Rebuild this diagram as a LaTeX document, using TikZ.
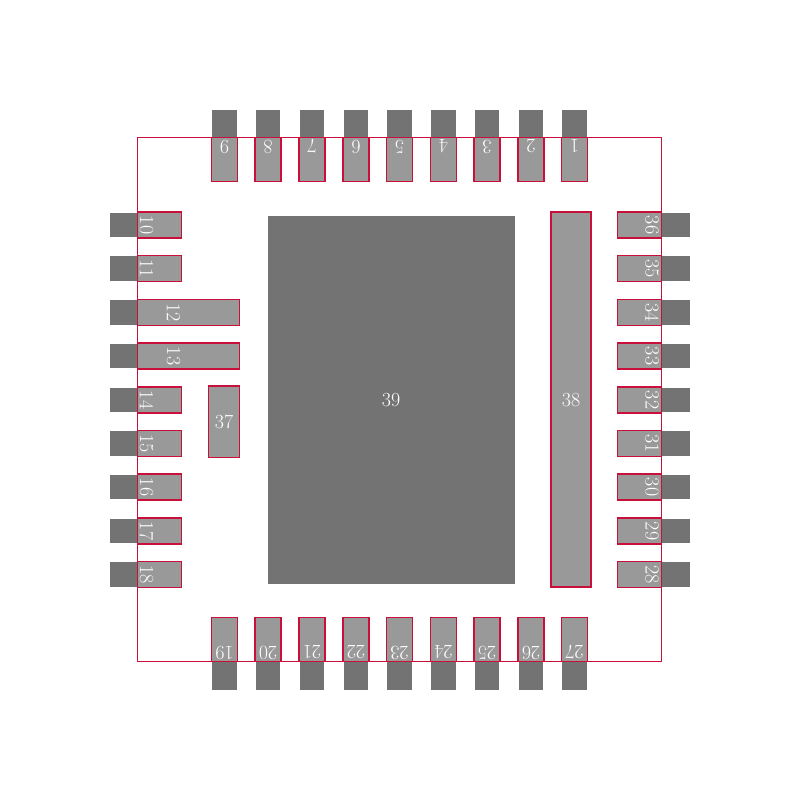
\documentclass[tikz,border=0pt]{standalone}
\usepackage{xcolor}
\usepackage{tikz}
\definecolor{padGrey}{RGB}{153, 153, 153}
\definecolor{tabGrey}{RGB}{115, 115, 115}
\definecolor{outlineRed}{RGB}{200, 16, 58}

\begin{document}
\begin{tikzpicture}[
    x=1pt, y=-1pt,
    pad/.style={fill=padGrey, draw=outlineRed, line width=1.7pt},
    tab/.style={fill=tabGrey},
    pin/.style={text=white, inner sep=0pt, font=\fontsize{20}{24}\selectfont}
]
    \useasboundingbox (0,0) rectangle (800,800);

    % thermal pad
    \fill[tab] (268,215.5) rectangle (514.5,584);

    % tabs and pads, top and bottom rows
    \foreach \n/\xpos in {1/574.5, 2/531, 3/487, 4/443.5, 5/399.5, 6/356, 7/312, 8/268, 9/224.5} {
        \fill[tab] (\xpos-12.2,110) rectangle (\xpos+12.2,137.5);
        \draw[pad] (\xpos-13,137.5) rectangle (\xpos+13,181.5);
    }
    \foreach \n/\xpos in {19/224.5, 20/268, 21/312, 22/356, 23/399.5, 24/443.5, 25/487, 26/531, 27/574.5} {
        \fill[tab] (\xpos-12.2,661.5) rectangle (\xpos+12.2,690);
        \draw[pad] (\xpos-13,617.5) rectangle (\xpos+13,661.5);
    }

    % tabs and pads, left and right rows
    \foreach \n/\ypos in {10/225, 11/268.5, 12/312.5, 13/356, 14/400, 15/443.5, 16/487, 17/531, 18/574.5} {
        \fill[tab] (110,\ypos-12.2) rectangle (137.5,\ypos+12.2);
    }
    \foreach \n/\ypos in {10/225, 11/268.5, 14/400, 15/443.5, 16/487, 17/531, 18/574.5} {
        \draw[pad] (137.5,\ypos-13) rectangle (181.5,\ypos+13);
    }
    \draw[pad] (137.5,299.5) rectangle (239.5,325.5);
    \draw[pad] (137.5,343) rectangle (239.5,369);
    \foreach \n/\ypos in {36/225, 35/268.5, 34/312.5, 33/356, 32/400, 31/443.5, 30/487, 29/531, 28/574.5} {
        \fill[tab] (661.5,\ypos-12.2) rectangle (690,\ypos+12.2);
        \draw[pad] (617.5,\ypos-13) rectangle (661.5,\ypos+13);
    }

    % inner pads
    \draw[pad] (208.5,386) rectangle (239.5,457.5);
    \draw[pad] (551,212) rectangle (591,587);

    % outline
    \draw[outlineRed, line width=1.7pt, line join=round] (137.5,137.5) rectangle (661.5,661.5);

    % labels
    \foreach \n/\xpos in {1/574.5, 2/531, 3/487, 4/443.5, 5/399.5, 6/356, 7/312, 8/268, 9/224.5} {
        \node[pin, rotate=180] (pin\n) at (\xpos,146.5) {\n};
    }
    \foreach \n/\xpos in {19/224.5, 20/268, 21/312, 22/356, 23/399.5, 24/443.5, 25/487, 26/531, 27/574.5} {
        \node[pin, rotate=180] (pin\n) at (\xpos,652.5) {\n};
    }
    \foreach \n/\ypos in {10/225, 11/268.5, 14/400, 15/443.5, 16/487, 17/531, 18/574.5} {
        \node[pin, rotate=-90] (pin\n) at (146.5,\ypos) {\n};
    }
    \node[pin, rotate=-90] (pin12) at (173.5,312.5) {12};
    \node[pin, rotate=-90] (pin13) at (173.5,356) {13};
    \foreach \n/\ypos in {36/225, 35/268.5, 34/312.5, 33/356, 32/400, 31/443.5, 30/487, 29/531, 28/574.5} {
        \node[pin, rotate=-90] (pin\n) at (652,\ypos) {\n};
    }
    \node[pin] (pin37) at (224,422) {37};
    \node[pin] (pin38) at (571,400) {38};
    \node[pin] (pin39) at (391,400) {39};
\end{tikzpicture}
\end{document}
